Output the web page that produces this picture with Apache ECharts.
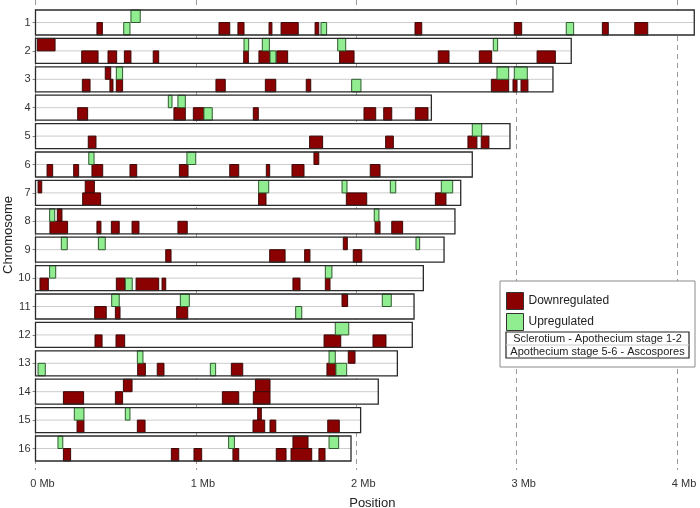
<!DOCTYPE html>
<html>
<head>
<meta charset="utf-8">
<script src="https://cdn.jsdelivr.net/npm/echarts@6/dist/echarts.min.js"></script>
<style>html,body{margin:0;padding:0;background:#fff}#c{width:700px;height:508px}</style>
</head>
<body>
<div id="c"></div>
<script>
// ---- data ----
const chromLabels = ['1','2','3','4','5','6','7','8','9','10','11','12','13','14','15','16'];
const chromLengths = [4.107, 3.340, 3.226, 2.468, 2.958, 2.723, 2.651, 2.615, 2.547, 2.418, 2.360, 2.349, 2.256, 2.137, 2.027, 1.967];
const xTickValues = [0, 1, 2, 3, 4];
const comparisons = ['Sclerotium - Apothecium stage 1-2', 'Apothecium stage 5-6 - Ascospores'];
// [chromosome, half (0 = upper comparison, 1 = lower comparison), start Mb, end Mb]
const downregulated = [
  [1,1,0.383,0.417],[1,1,1.144,1.211],[1,1,1.262,1.300],[1,1,1.456,1.474],[1,1,1.531,1.638],[1,1,1.743,1.766],[1,1,2.366,2.408],[1,1,2.985,3.031],[1,1,3.534,3.571],[1,1,3.736,3.817],
  [2,0,0.011,0.122],
  [2,1,0.288,0.390],[2,1,0.452,0.506],[2,1,0.554,0.595],[2,1,0.734,0.768],[2,1,1.298,1.327],[2,1,1.393,1.462],[2,1,1.504,1.572],[2,1,1.896,1.986],[2,1,2.511,2.578],[2,1,2.767,2.844],[2,1,3.127,3.241],
  [3,0,0.435,0.469],
  [3,1,0.292,0.340],[3,1,0.464,0.483],[3,1,0.504,0.543],[3,1,1.125,1.183],[3,1,1.433,1.498],[3,1,1.688,1.716],[3,1,2.842,2.950],[3,1,2.977,3.002],[3,1,3.027,3.070],
  [4,1,0.263,0.325],[4,1,0.863,0.934],[4,1,0.984,1.050],[4,1,1.358,1.389],[4,1,2.048,2.121],[4,1,2.171,2.221],[4,1,2.368,2.447],
  [5,1,0.329,0.377],[5,1,1.709,1.790],[5,1,2.183,2.231],[5,1,2.696,2.752],[5,1,2.779,2.827],
  [6,0,1.736,1.766],
  [6,1,0.072,0.107],[6,1,0.238,0.269],[6,1,0.352,0.419],[6,1,0.589,0.631],[6,1,0.897,0.951],[6,1,1.211,1.267],[6,1,1.439,1.460],[6,1,1.599,1.674],[6,1,2.087,2.148],
  [7,0,0.016,0.039],[7,0,0.310,0.367],
  [7,1,0.294,0.406],[7,1,1.391,1.437],[7,1,1.938,2.065],[7,1,2.493,2.559],
  [8,0,0.136,0.165],
  [8,1,0.090,0.200],[8,1,0.383,0.408],[8,1,0.473,0.522],[8,1,0.602,0.645],[8,1,0.888,0.946],[8,1,2.117,2.148],[8,1,2.221,2.289],
  [9,0,1.919,1.944],
  [9,1,0.812,0.845],[9,1,1.460,1.556],[9,1,1.678,1.711],[9,1,1.981,2.034],
  [10,1,0.028,0.080],[10,1,0.504,0.558],[10,1,0.627,0.768],[10,1,0.789,0.812],[10,1,1.605,1.649],[10,1,1.807,1.836],
  [11,0,1.911,1.946],
  [11,1,0.369,0.441],[11,1,0.498,0.527],[11,1,0.880,0.949],
  [12,1,0.371,0.415],[12,1,0.502,0.556],[12,1,1.799,1.903],[12,1,2.104,2.185],
  [13,0,1.950,1.992],
  [13,1,0.637,0.685],[13,1,0.759,0.801],[13,1,1.221,1.292],[13,1,1.817,1.872],
  [14,0,0.548,0.602],[14,0,1.371,1.462],
  [14,1,0.174,0.300],[14,1,0.498,0.543],[14,1,1.165,1.267],[14,1,1.358,1.462],
  [15,0,1.385,1.408],
  [15,1,0.259,0.302],[15,1,0.635,0.683],[15,1,1.356,1.429],[15,1,1.462,1.498],[15,1,1.822,1.894],
  [16,0,1.605,1.699],
  [16,1,0.174,0.219],[16,1,0.847,0.893],[16,1,0.988,1.036],[16,1,1.231,1.267],[16,1,1.501,1.562],[16,1,1.593,1.722],[16,1,1.767,1.805]
];
const upregulated = [
  [1,0,0.595,0.653],
  [1,1,0.550,0.589],[1,1,1.780,1.815],[1,1,3.309,3.355],
  [2,0,1.300,1.329],[2,0,1.414,1.458],[2,0,1.884,1.934],[2,0,2.854,2.881],
  [2,1,1.462,1.499],
  [3,0,0.504,0.543],[3,0,2.877,2.950],[3,0,2.985,3.066],
  [3,1,1.971,2.029],
  [4,0,0.828,0.851],[4,0,0.888,0.934],
  [4,1,1.050,1.102],
  [5,0,2.723,2.782],
  [6,0,0.332,0.365],[6,0,0.944,0.999],
  [7,0,1.391,1.454],[7,0,1.911,1.942],[7,0,2.212,2.246],[7,0,2.530,2.601],
  [8,0,0.088,0.120],[8,0,2.112,2.141],
  [9,0,0.161,0.198],[9,0,0.392,0.435],[9,0,2.372,2.395],
  [10,0,0.088,0.126],[10,0,1.807,1.848],
  [10,1,0.560,0.603],
  [11,0,0.475,0.522],[11,0,0.903,0.959],[11,0,2.162,2.218],
  [11,1,1.622,1.660],
  [12,0,1.869,1.953],
  [13,0,0.635,0.670],[13,0,1.830,1.869],
  [13,1,0.016,0.061],[13,1,1.090,1.123],[13,1,1.873,1.940],
  [15,0,0.242,0.302],[15,0,0.560,0.589],
  [16,0,0.140,0.170],[16,0,1.204,1.240],[16,0,1.830,1.890]
];

// ---- chart ----
const FONT = 'Liberation Sans, Arial, Helvetica, sans-serif';
const H = 0.44; // half height of a chromosome box in row units
const rowPx = 28.4, firstCenter = 22.5, gridH = 470;
const pxPerMb = 160.4, xMax = 4.2;
const yMin = 1 - firstCenter / rowPx;
const yMax = 1 + (gridH - firstCenter) / rowPx;
const chromData = chromLengths.map((len, i) => [i + 1, len]);

function chromItem(params, api) {
  const chr = api.value(0), len = api.value(1);
  const p0 = api.coord([0, chr - H]);
  const p1 = api.coord([len, chr + H]);
  const pm0 = api.coord([0, chr]);
  const pm1 = api.coord([len, chr]);
  return {
    type: 'group',
    children: [
      {type: 'rect', shape: {x: p0[0], y: p0[1], width: p1[0] - p0[0], height: p1[1] - p0[1]},
       style: {fill: '#ffffff', stroke: 'none'}},
      {type: 'line', shape: {x1: pm0[0], y1: pm0[1], x2: pm1[0], y2: pm1[1]},
       style: {stroke: '#cccccc', lineWidth: 1}}
    ]
  };
}
function chromBorder(params, api) {
  const chr = api.value(0), len = api.value(1);
  const p0 = api.coord([0, chr - H]);
  const p1 = api.coord([len, chr + H]);
  return {type: 'rect', shape: {x: p0[0], y: p0[1], width: p1[0] - p0[0], height: p1[1] - p0[1]},
    style: {fill: 'none', stroke: '#2a2a2a', lineWidth: 1.3}};
}
function makeBox(fill, stroke) {
  return function (params, api) {
    const chr = api.value(0), half = api.value(1), s = api.value(2), e = api.value(3);
    const y0 = half === 0 ? chr - H : chr;
    const y1 = half === 0 ? chr : chr + H;
    const p0 = api.coord([s, y0]);
    const p1 = api.coord([e, y1]);
    return {type: 'rect', shape: {x: p0[0], y: p0[1], width: p1[0] - p0[0], height: p1[1] - p0[1]},
      style: {fill: fill, stroke: stroke, lineWidth: 1}};
  };
}

const chart = echarts.init(document.getElementById('c'), null, {renderer: 'canvas'});
chart.setOption({
  animation: false,
  backgroundColor: '#ffffff',
  textStyle: {fontFamily: FONT},
  grid: {left: 35.5, top: 0, width: pxPerMb * xMax, height: gridH, containLabel: false, outerBoundsMode: 'none'},
  xAxis: {
    type: 'value', min: 0, max: xMax, interval: 1,
    name: 'Position', nameLocation: 'middle', nameGap: 27, nameMoveOverlap: false,
    nameTextStyle: {fontSize: 13, color: '#222', fontFamily: FONT, padding: [0, 0, 0, 0]},
    axisLine: {show: false},
    axisTick: {show: false},
    axisLabel: {fontSize: 11, color: '#333', margin: 8, fontFamily: FONT, align: 'center',
      padding: [0, 0, 0, 14], hideOverlap: false,
      formatter: v => (xTickValues.indexOf(v) >= 0 ? v + ' Mb' : '')},
    splitLine: {show: true, lineStyle: {color: '#9a9a9a', type: [5, 4], width: 1}}
  },
  yAxis: {
    type: 'value', inverse: true, min: yMin, max: yMax,
    name: 'Chromosome', nameLocation: 'middle', nameGap: 21, nameRotate: 90, nameMoveOverlap: false,
    nameTextStyle: {fontSize: 13, color: '#222', fontFamily: FONT},
    axisLine: {show: false},
    axisTick: {show: true, length: 3, lineStyle: {color: '#888'}, customValues: chromLabels.map((l, i) => i + 1)},
    axisLabel: {fontSize: 11, color: '#333', margin: 5, fontFamily: FONT,
      customValues: chromLabels.map((l, i) => i + 1),
      formatter: v => chromLabels[Math.round(v) - 1] || ''},
    splitLine: {show: false}
  },
  legend: {
    data: ['Downregulated', 'Upregulated'],
    orient: 'vertical', left: 506, top: 292, padding: 0, itemWidth: 17, itemHeight: 17, itemGap: 3,
    icon: 'rect', z: 20, selectedMode: false,
    textStyle: {fontSize: 12, color: '#222', fontFamily: FONT},
    itemStyle: {borderColor: '#333', borderWidth: 1}
  },
  graphic: [
    {type: 'rect', z: 10, shape: {x: 500, y: 281, width: 195, height: 86},
     style: {fill: '#ffffff', stroke: '#8a8a8a', lineWidth: 1}},
    {type: 'rect', z: 30, shape: {x: 506, y: 332, width: 183, height: 26},
     style: {fill: '#ffffff', stroke: '#222', lineWidth: 1.2}},
    {type: 'line', z: 31, shape: {x1: 506, y1: 345, x2: 689, y2: 345},
     style: {stroke: '#cccccc', lineWidth: 1}},
    {type: 'text', z: 32, style: {x: 597.5, y: 338.8, text: comparisons[0], textAlign: 'center', textVerticalAlign: 'middle',
      font: '11px ' + FONT, fill: '#222'}},
    {type: 'text', z: 32, style: {x: 597.5, y: 351.6, text: comparisons[1], textAlign: 'center', textVerticalAlign: 'middle',
      font: '11px ' + FONT, fill: '#222'}}
  ],
  series: [
    {type: 'custom', name: 'chromosomes', data: chromData, encode: {x: 1, y: 0}, renderItem: chromItem, z: 2, silent: true},
    {type: 'custom', name: 'Downregulated', data: downregulated, encode: {x: [2, 3], y: 0},
     itemStyle: {color: '#8B0000', borderColor: '#333', borderWidth: 1},
     renderItem: makeBox('#8B0000', '#3b0a0a'), z: 3, silent: true},
    {type: 'custom', name: 'Upregulated', data: upregulated, encode: {x: [2, 3], y: 0},
     itemStyle: {color: '#90EE90', borderColor: '#333', borderWidth: 1},
     renderItem: makeBox('#90EE90', '#2f5a2f'), z: 3, silent: true},
    {type: 'custom', name: 'chromosome borders', data: chromData, encode: {x: 1, y: 0}, renderItem: chromBorder, z: 4, silent: true}
  ]
});
</script>
</body>
</html>
